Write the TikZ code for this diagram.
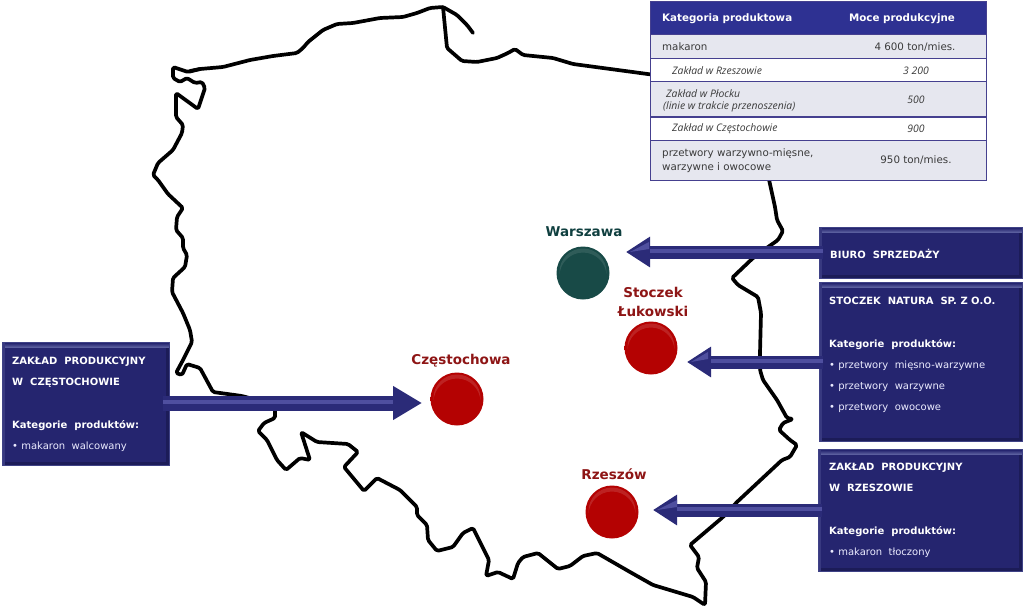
\documentclass[tikz,border=0pt]{standalone}
\usepackage{fontspec}
\setmainfont{DejaVu Sans}
\newfontfamily\tableitalic{Open Sans}
\usetikzlibrary{arrows.meta,calc}
\definecolor{boxblue}{HTML}{25256F}
\definecolor{boxlight}{HTML}{5A5E9E}
\definecolor{boxdark}{HTML}{1C1C58}
\definecolor{headblue}{HTML}{2E3192}
\definecolor{rowgrey}{HTML}{E6E7EF}
\definecolor{rowline}{HTML}{45408F}
\definecolor{tabletext}{HTML}{3A3A3A}
\definecolor{arrowblue}{HTML}{2B2B78}
\definecolor{arrowlight}{HTML}{4F4F9F}
\definecolor{cityred}{HTML}{8E1515}
\definecolor{citygreen}{HTML}{0F3F3F}
\definecolor{ballred}{HTML}{B40202}
\definecolor{ballredrim}{HTML}{741010}
\definecolor{ballgreen}{HTML}{184A47}
\definecolor{ballgreenrim}{HTML}{0E3230}
\pgfdeclareradialshading{redball}{\pgfpoint{0bp}{0bp}}{color(0bp)=(ballred);color(39bp)=(ballred);color(46bp)=(ballred!70!ballredrim);color(50bp)=(ballredrim)}
\pgfdeclareradialshading{greenball}{\pgfpoint{0bp}{0bp}}{color(0bp)=(ballgreen);color(39bp)=(ballgreen);color(46bp)=(ballgreen!70!ballgreenrim);color(50bp)=(ballgreenrim)}
\tikzset{
  x=1pt,y=-1pt,
  mapline/.style={line width=3.7pt,black,line join=round,line cap=round,rounded corners=1.6pt},
  dbox/.style={draw=boxlight!50!boxblue,line width=.6pt,fill=boxblue,inner sep=0pt,outer sep=0pt,anchor=north west,
    path picture={
      \fill[boxdark] (path picture bounding box.south west) rectangle ([yshift=3pt]path picture bounding box.south east);
      \fill[boxdark] (path picture bounding box.north east) rectangle ([xshift=-3pt]path picture bounding box.south east);
      \shade[top color=boxblue,bottom color=boxlight,shading angle=0] ([yshift=-1pt]path picture bounding box.north west) rectangle ([yshift=-5pt]path picture bounding box.north east);
      \fill[boxlight!35!boxblue] (path picture bounding box.north west) rectangle ([xshift=2.5pt]path picture bounding box.south west);
    }},
  boxhead/.style={text=white,anchor=base west,inner sep=0pt,font=\fontsize{10}{11}\selectfont\bfseries},
  boxline/.style={text=white!92!blue,anchor=base west,inner sep=0pt,font=\fontsize{10}{11}\selectfont},
  trow/.style={draw=rowline,line width=1pt,fill=rowgrey,anchor=north west,inner sep=0pt,outer sep=0pt},
  trowb/.style={trow,fill=white},
  thead/.style={draw=rowline,line width=1pt,fill=headblue,anchor=north west,inner sep=0pt,outer sep=0pt},
  theadt/.style={text=white,inner sep=0pt,font=\fontsize{10.3}{11}\selectfont\bfseries},
  tcell/.style={text=tabletext,inner sep=0pt,font=\fontsize{10.3}{11}\selectfont},
  tcelli/.style={text=tabletext,inner sep=0pt,font=\tableitalic\fontsize{10.4}{11}\selectfont\itshape},
  bigarrow/.style={arrowblue,line width=13pt,-{Triangle[length=24pt,width=29pt]},
    postaction={draw,arrowlight,line width=4pt,-,shorten >=24pt,transform canvas={yshift=1pt}}},
  bigarrowc/.style={arrowblue,line width=15pt,-{Triangle[length=29pt,width=32pt]},
    postaction={draw,arrowlight,line width=4pt,-,shorten >=29pt,transform canvas={yshift=1pt}}},
  facet/.style={fill=arrowlight},
  redcity/.style={circle,minimum size=53pt,inner sep=0pt,shading=redball,
    path picture={
      \begin{scope}
      \clip ([xshift=-27pt,yshift=27pt]path picture bounding box.center) rectangle ([xshift=27pt]path picture bounding box.center);
      \fill[white,opacity=.13,even odd rule] (path picture bounding box.center) ++(0,-1) circle[radius=23.5] ++(0,4) circle[radius=23.5];
      \end{scope}}},
  greencity/.style={circle,minimum size=53pt,inner sep=0pt,shading=greenball,
    path picture={
      \begin{scope}
      \clip ([xshift=-27pt,yshift=27pt]path picture bounding box.center) rectangle ([xshift=27pt]path picture bounding box.center);
      \fill[white,opacity=.1,even odd rule] (path picture bounding box.center) ++(0,-1) circle[radius=23.5] ++(0,4) circle[radius=23.5];
      \end{scope}}},
  redlab/.style={text=cityred,inner sep=0pt,align=center,font=\fontsize{13.5}{19}\selectfont\bfseries},
  greenlab/.style={text=citygreen,inner sep=0pt,font=\fontsize{13.5}{15}\selectfont\bfseries},
}
\begin{document}
\begin{tikzpicture}
\useasboundingbox[fill=white] (0,0) rectangle (1024,615);
% map outline
\draw[mapline] (190,71) -- (200,69) -- (223,67) -- (250,60) -- (273,56) -- (297,53) -- (303,48) -- (308,42) -- (323,30) -- (337,24) -- (353,23) -- (380,18) -- (403,17) -- (417,13) -- (430,8) -- (443,7) -- (457,15) -- (467,25) -- (473,33);
\draw[mapline] (443,7) -- (447,48) -- (462,61) -- (477,62) -- (497,58) -- (508,53) -- (515,49) -- (523,55) -- (553,58) -- (573,64) -- (655,75);
\draw[mapline] (768,175) -- (775,207) -- (777,220) -- (783,231) -- (778,240) -- (768,247) -- (753,258) -- (732,278) -- (738,285) -- (758,297) -- (761,313) -- (760,353) -- (760,370) -- (763,380) -- (777,400) -- (787,418) -- (793,419) -- (783,423) -- (779,430) -- (790,440) -- (797,445) -- (790,457) -- (782,460) -- (737,502) -- (723,517) -- (690,545) -- (699,557) -- (697,568) -- (706,582) -- (705,605) -- (693,597) -- (653,585) -- (630,572) -- (597,553) -- (583,556) -- (570,566) -- (558,569) -- (538,553) -- (523,557) -- (518,563) -- (513,579) -- (498,572) -- (486,576) -- (489,560) -- (473,528) -- (463,533) -- (453,547) -- (437,551) -- (428,540) -- (427,525) -- (417,515) -- (417,507) -- (400,490) -- (377,478) -- (364,491) -- (344,467) -- (358,452) -- (348,444) -- (317,442) -- (301,432) -- (310,460) -- (300,458) -- (286,470) -- (277,460) -- (267,440) -- (258,431) -- (264,423) -- (275,418) -- (275,405) -- (242,396) -- (213,392) -- (200,368) -- (187,364) -- (182,375) -- (176,373) -- (183,360) -- (192,342) -- (190,330) -- (183,313) -- (172,292) -- (173,278) -- (185,267) -- (187,255) -- (183,248) -- (183,238) -- (176,230) -- (177,217) -- (183,208) -- (168,194) -- (158,180) -- (153,175) -- (158,163) -- (173,150) -- (182,133) -- (183,125) -- (176,117) -- (176,93) -- (198,109) -- (205,88) -- (202,82) -- (195,83) -- (187,78) -- (180,82) -- (173,78) -- (173,67) -- (188,72) -- (200,69);
% table
\node[thead,minimum width=336pt,minimum height=33pt] (thd) at (650,2) {};
\node[trow,minimum width=336pt,minimum height=24pt] (r1) at (650,35) {};
\node[trowb,minimum width=336pt,minimum height=23pt] (r2) at (650,59) {};
\node[trow,minimum width=336pt,minimum height=35pt] (r3) at (650,82) {};
\node[trowb,minimum width=336pt,minimum height=23pt] (r4) at (650,117) {};
\node[trow,minimum width=336pt,minimum height=40pt] (r5) at (650,140) {};
\node[theadt,anchor=west] (h1) at (662,19) {Kategoria produktowa};
\node[theadt] (h2) at (902,19) {Moce produkcyjne};
\node[tcell,anchor=west] (c1) at (662,47) {makaron};
\node[tcell] (v1) at (915,47) {4 600 ton/mies.};
\node[tcelli,anchor=west] (c2) at (672,71) {Zakład w Rzeszowie};
\node[tcelli] (v2) at (916,71) {3 200};
\node[tcelli,anchor=west] (c3a) at (666,94) {Zakład w Płocku};
\node[tcelli,anchor=west] (c3b) at (663,107) {(linie w trakcie przenoszenia)};
\node[tcelli] (v3) at (916,100) {500};
\node[tcelli,anchor=west] (c4) at (672,129) {Zakład w Częstochowie};
\node[tcelli] (v4) at (916,129) {900};
\node[tcell,anchor=west] (c5a) at (662,154) {przetwory warzywno-mięsne,};
\node[tcell,anchor=west] (c5b) at (662,168) {warzywne i owocowe};
\node[tcell] (v5) at (916,160) {950 ton/mies.};
% blue boxes
\node[dbox,minimum width=203pt,minimum height=51pt] (biuro) at (819,227) {};
\node[dbox,minimum width=203pt,minimum height=159pt] (stoczek) at (819,282) {};
\node[dbox,minimum width=204pt,minimum height=122pt] (rzbox) at (818,449) {};
\node[dbox,minimum width=167pt,minimum height=123pt] (czbox) at (2,342) {};
% cities
\node[greencity] (wa) at (583,273) {};
\node[redcity] (st) at (651,348) {};
\node[redcity] (cz) at (457,399) {};
\node[redcity] (rz) at (612,512) {};
\node[greenlab] (wal) at (584,232) {Warszawa};
\node[redlab] (stl) at (653,302) {Stoczek\\Łukowski};
\node[redlab] (czl) at (461,361) {Częstochowa};
\node[redlab] (rzl) at (614,474) {Rzeszów};
% arrows
\coordinate (tw) at (626,252);
\coordinate (ts) at (687,362);
\coordinate (tr) at (653,510);
\coordinate (tc) at (422,403);
\draw[bigarrow] ([xshift=4pt]biuro.west |- tw) -- (tw);
\draw[bigarrow] ([xshift=4pt]stoczek.west |- ts) -- (ts);
\draw[bigarrow] ([xshift=4pt]rzbox.west |- tr) -- (tr);
\draw[bigarrowc] ([xshift=-6pt]czbox.east |- tc) -- (tc);
\fill[facet] ($(tw)+(4,0)$) -- ($(tw)+(23,-10)$) -- ($(tw)+(23,-3)$) -- cycle;
\fill[facet] ($(ts)+(4,0)$) -- ($(ts)+(21,-10)$) -- ($(ts)+(21,-3)$) -- cycle;
\fill[facet] ($(tr)+(4,0)$) -- ($(tr)+(24,-10)$) -- ($(tr)+(24,-3)$) -- cycle;
% box texts
\node[boxhead] (b0) at (830,258) {BIURO\ \ SPRZEDAŻY};
\node[boxhead] (s1) at (829,304) {STOCZEK\ \ NATURA\ \ SP. Z O.O.};
\node[boxhead] (s2) at (829,347) {Kategorie\ \ produktów:};
\node[boxline] (s3) at (829,368) {• przetwory\ \ mięsno-warzywne};
\node[boxline] (s4) at (829,389) {• przetwory\ \ warzywne};
\node[boxline] (s5) at (829,410) {• przetwory\ \ owocowe};
\node[boxhead] (r1t) at (829,470) {ZAKŁAD\ \ PRODUKCYJNY};
\node[boxhead] (r2t) at (829,491) {W\ \ RZESZOWIE};
\node[boxhead] (r3t) at (829,534) {Kategorie\ \ produktów:};
\node[boxline] (r4t) at (829,555) {• makaron\ \ tłoczony};
\node[boxhead] (k1) at (12,364) {ZAKŁAD\ \ PRODUKCYJNY};
\node[boxhead] (k2) at (12,385) {W\ \ CZĘSTOCHOWIE};
\node[boxhead] (k3) at (12,428) {Kategorie\ \ produktów:};
\node[boxline] (k4) at (12,449) {• makaron\ \ walcowany};
\end{tikzpicture}
\end{document}
